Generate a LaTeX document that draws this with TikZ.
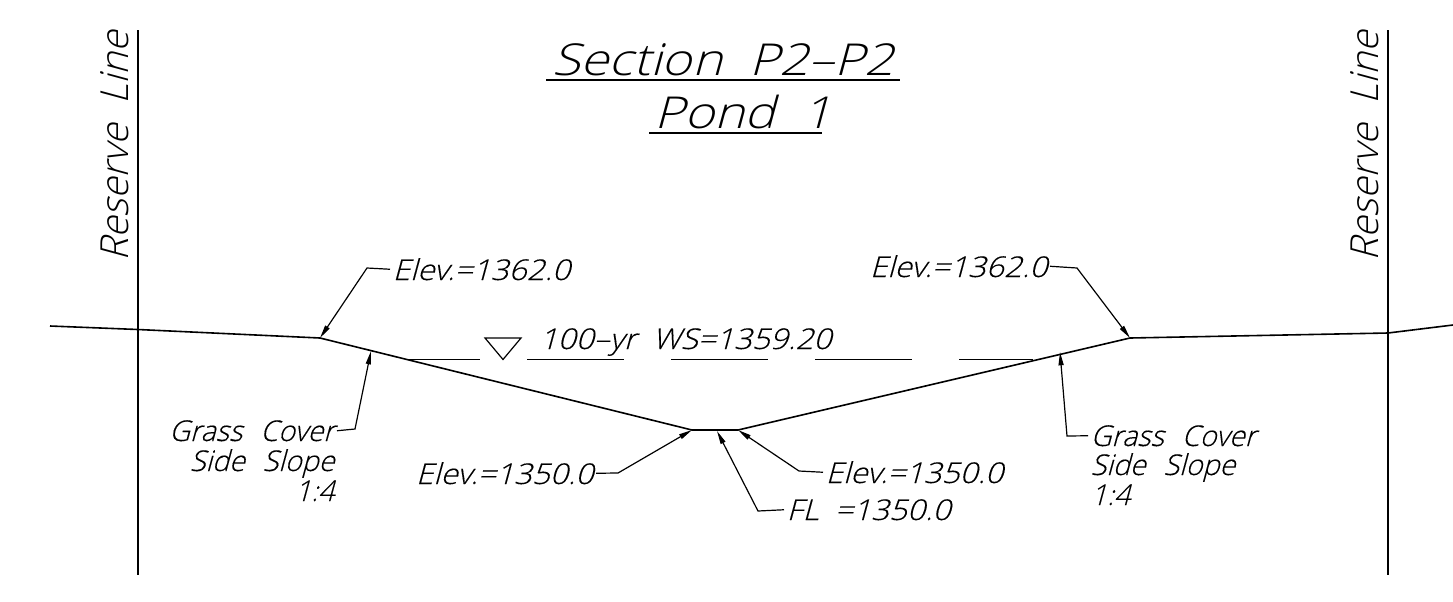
\documentclass[tikz,border=0pt]{standalone}
\usepackage{fontspec}
\usetikzlibrary{arrows.meta}
\newfontfamily\cad[FakeSlant=0.27,WordSpace=2.0,FakeStretch=1.1,FakeBold=0.25]{Open Sans Light}
\newfontfamily\cadw[FakeSlant=0.27,WordSpace=2.4,FakeStretch=1.0,FakeBold=0.25]{Open Sans Light}
\newfontfamily\cadt[FakeSlant=0.27,WordSpace=2.0,FakeStretch=1.17]{Open Sans Light}
\newfontfamily\cadr[FakeSlant=0.27,WordSpace=2.0]{Open Sans Light}
\tikzset{
  x=0.75pt,y=-0.75pt,
  ground/.style={line width=1.2pt,black},
  vert/.style={line width=1pt,black},
  water/.style={line width=0.9pt,black},
  ul/.style={line width=1.2pt,black},
  leader/.style={line width=0.9pt,black,-{Stealth[inset=0pt,length=10pt,width=3.8pt]}},
  lbl/.style={inner sep=0pt,outer sep=2pt,font=\cad\fontsize{21.5}{21.5}\selectfont},
  lblw/.style={inner sep=0pt,outer sep=2pt,font=\cadw\fontsize{21.5}{21.5}\selectfont},
  big/.style={inner sep=0pt,font=\cadt\fontsize{33}{33}\selectfont},
  res/.style={inner sep=0pt,rotate=90,anchor=base west,font=\cadr\fontsize{29}{29}\selectfont},
}
\begin{document}
\begin{tikzpicture}
\useasboundingbox (0,0) rectangle (1453,601);
% reserve lines
\coordinate (rl1) at (138,30); \coordinate (rl2) at (138,575);
\coordinate (rr1) at (1388,30); \coordinate (rr2) at (1388,575);
\draw[vert] (rl1) -- (rl2);
\draw[vert] (rr1) -- (rr2);
\node[res] (resL) at (128,262) {Reserve Line};
\node[res] (resR) at (1378,262) {Reserve Line};
% title
\node[big,anchor=base west] (title) at (552,75) {Section P2–P2};
\node[big,anchor=base west] (pond) at (654,128) {Pond 1};
\coordinate (t1) at (546,80); \coordinate (t2) at (900,80);
\coordinate (p1) at (649,133); \coordinate (p2) at (822,133);
\draw[ul] (t1) -- (t2);
\draw[ul] (p1) -- (p2);
% ground profile
\coordinate (g0) at (50,326);
\coordinate (g1) at (138,329.5);
\coordinate (g2) at (320,338);
\coordinate (g3) at (692,430);
\coordinate (g4) at (738,430);
\coordinate (g5) at (1130,338);
\coordinate (g6) at (1388,333);
\coordinate (g7) at (1453,325);
\draw[ground,line join=round] (g0) -- (g1) -- (g2) -- (g3) -- (g4) -- (g5) -- (g6) -- (g7);
% water surface
\foreach \a/\b in {408/480,527/624,671/768,815/912,959/1033}
  \draw[water] (\a,359.5) -- (\b,359.5);
\coordinate (w1) at (485,338); \coordinate (w2) at (521,338); \coordinate (w3) at (503,359.5);
\draw[water,line join=miter] (w1) -- (w2) -- (w3) -- cycle;
\node[lbl,anchor=base west] (ws) at (537,349) {100–yr WS=1359.20};
% labels
\node[lbl,anchor=base west] (e1) at (390,280) {Elev.=1362.0};
\node[lbl,anchor=base east] (e2) at (1050,277) {Elev.=1362.0};
\node[lbl,anchor=base east] (e3) at (596,484) {Elev.=1350.0};
\node[lbl,anchor=base west] (e4) at (823,483) {Elev.=1350.0};
\node[lbl,anchor=base west] (fl) at (784,520) {FL =1350.0};
\node[lblw,anchor=base east] (g1a) at (337,441) {Grass Cover};
\node[lblw,anchor=base east] (g1b) at (337,471) {Side Slope};
\node[lblw,anchor=base east] (g1c) at (337,501) {1:4};
\node[lblw,anchor=base west] (g2a) at (1088,446) {Grass Cover};
\node[lblw,anchor=base west] (g2b) at (1088,475) {Side Slope};
\node[lblw,anchor=base west] (g2c) at (1088,505) {1:4};
% arrow targets
\coordinate (a1) at (371,351);
\coordinate (a2) at (1060,352);
\coordinate (a3) at (717,431);
% leaders
\draw[leader] (e1.west) -- (367,268) -- (g2);
\draw[leader] (e2.east) -- (1077,268) -- (g5);
\draw[leader] (e3.east) -- (618,473) -- (g3);
\draw[leader] (e4.west) -- (799,471) -- (g4);
\draw[leader] (fl.west) -- (758,511) -- (a3);
\draw[leader] (g1a.east) -- (355,429) -- (a1);
\draw[leader] (g2a.west) -- (1067,436) -- (a2);
\end{tikzpicture}
\end{document}
